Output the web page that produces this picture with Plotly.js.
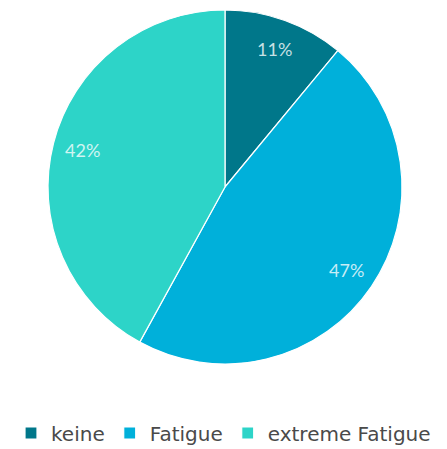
<!DOCTYPE html>
<html>
<head>
<meta charset="utf-8">
<script src="https://cdn.plot.ly/plotly-3.0.1.min.js"></script>
<style>html,body{margin:0;padding:0;background:#fff;}#chart{width:447px;height:449px;}</style>
</head>
<body>
<div id="chart"></div>
<script>
var labels = ["keine", "Fatigue", "extreme Fatigue"];
var values = [11, 47, 42];
var colors = ["#00778A", "#00B0DA", "#2DD4C8"];

var W = 447, H = 449;
var dom = {x: [48 / W, 402 / W], y: [1 - 364 / H, 1 - 10 / H]};

var trace = {
  type: "pie",
  labels: labels,
  values: values,
  sort: false,
  direction: "clockwise",
  rotation: 0,
  marker: {colors: colors, line: {color: "#ffffff", width: 1.2}},
  textinfo: "none",
  hoverinfo: "none",
  domain: dom
};

// percentage labels placed at ~83% of the radius, at each slice's mid-angle
var total = values.reduce(function (a, b) { return a + b; }, 0);
var cx = (dom.x[0] + dom.x[1]) / 2 * W;
var cy = (1 - (dom.y[0] + dom.y[1]) / 2) * H;
var R = (dom.x[1] - dom.x[0]) * W / 2;
var annotations = [];
var cum = 0;
values.forEach(function (v) {
  var mid = (cum + v / 2) / total * 2 * Math.PI;
  cum += v;
  var px = cx + 0.83 * R * Math.sin(mid);
  var py = cy - 0.83 * R * Math.cos(mid);
  annotations.push({
    x: px / W, y: 1 - py / H, xref: "paper", yref: "paper",
    text: Math.round(v / total * 100) + "%",
    showarrow: false, xanchor: "center", yanchor: "middle",
    font: {family: "Lato, 'Open Sans', sans-serif", size: 18, color: "rgba(255,255,255,0.78)"}
  });
});

var layout = {
  width: W,
  height: H,
  margin: {l: 0, r: 0, t: 0, b: 0, autoexpand: false},
  paper_bgcolor: "#ffffff",
  showlegend: true,
  annotations: annotations,
  legend: {
    orientation: "h",
    x: 0.5, xanchor: "center",
    y: 1 - 433 / H, yanchor: "middle",
    font: {family: "'DejaVu Sans', sans-serif", size: 20, color: "#4a4a4a"},
    itemwidth: 30
  }
};

Plotly.newPlot("chart", [trace], layout, {displayModeBar: false, staticPlot: true});
</script>
</body>
</html>
